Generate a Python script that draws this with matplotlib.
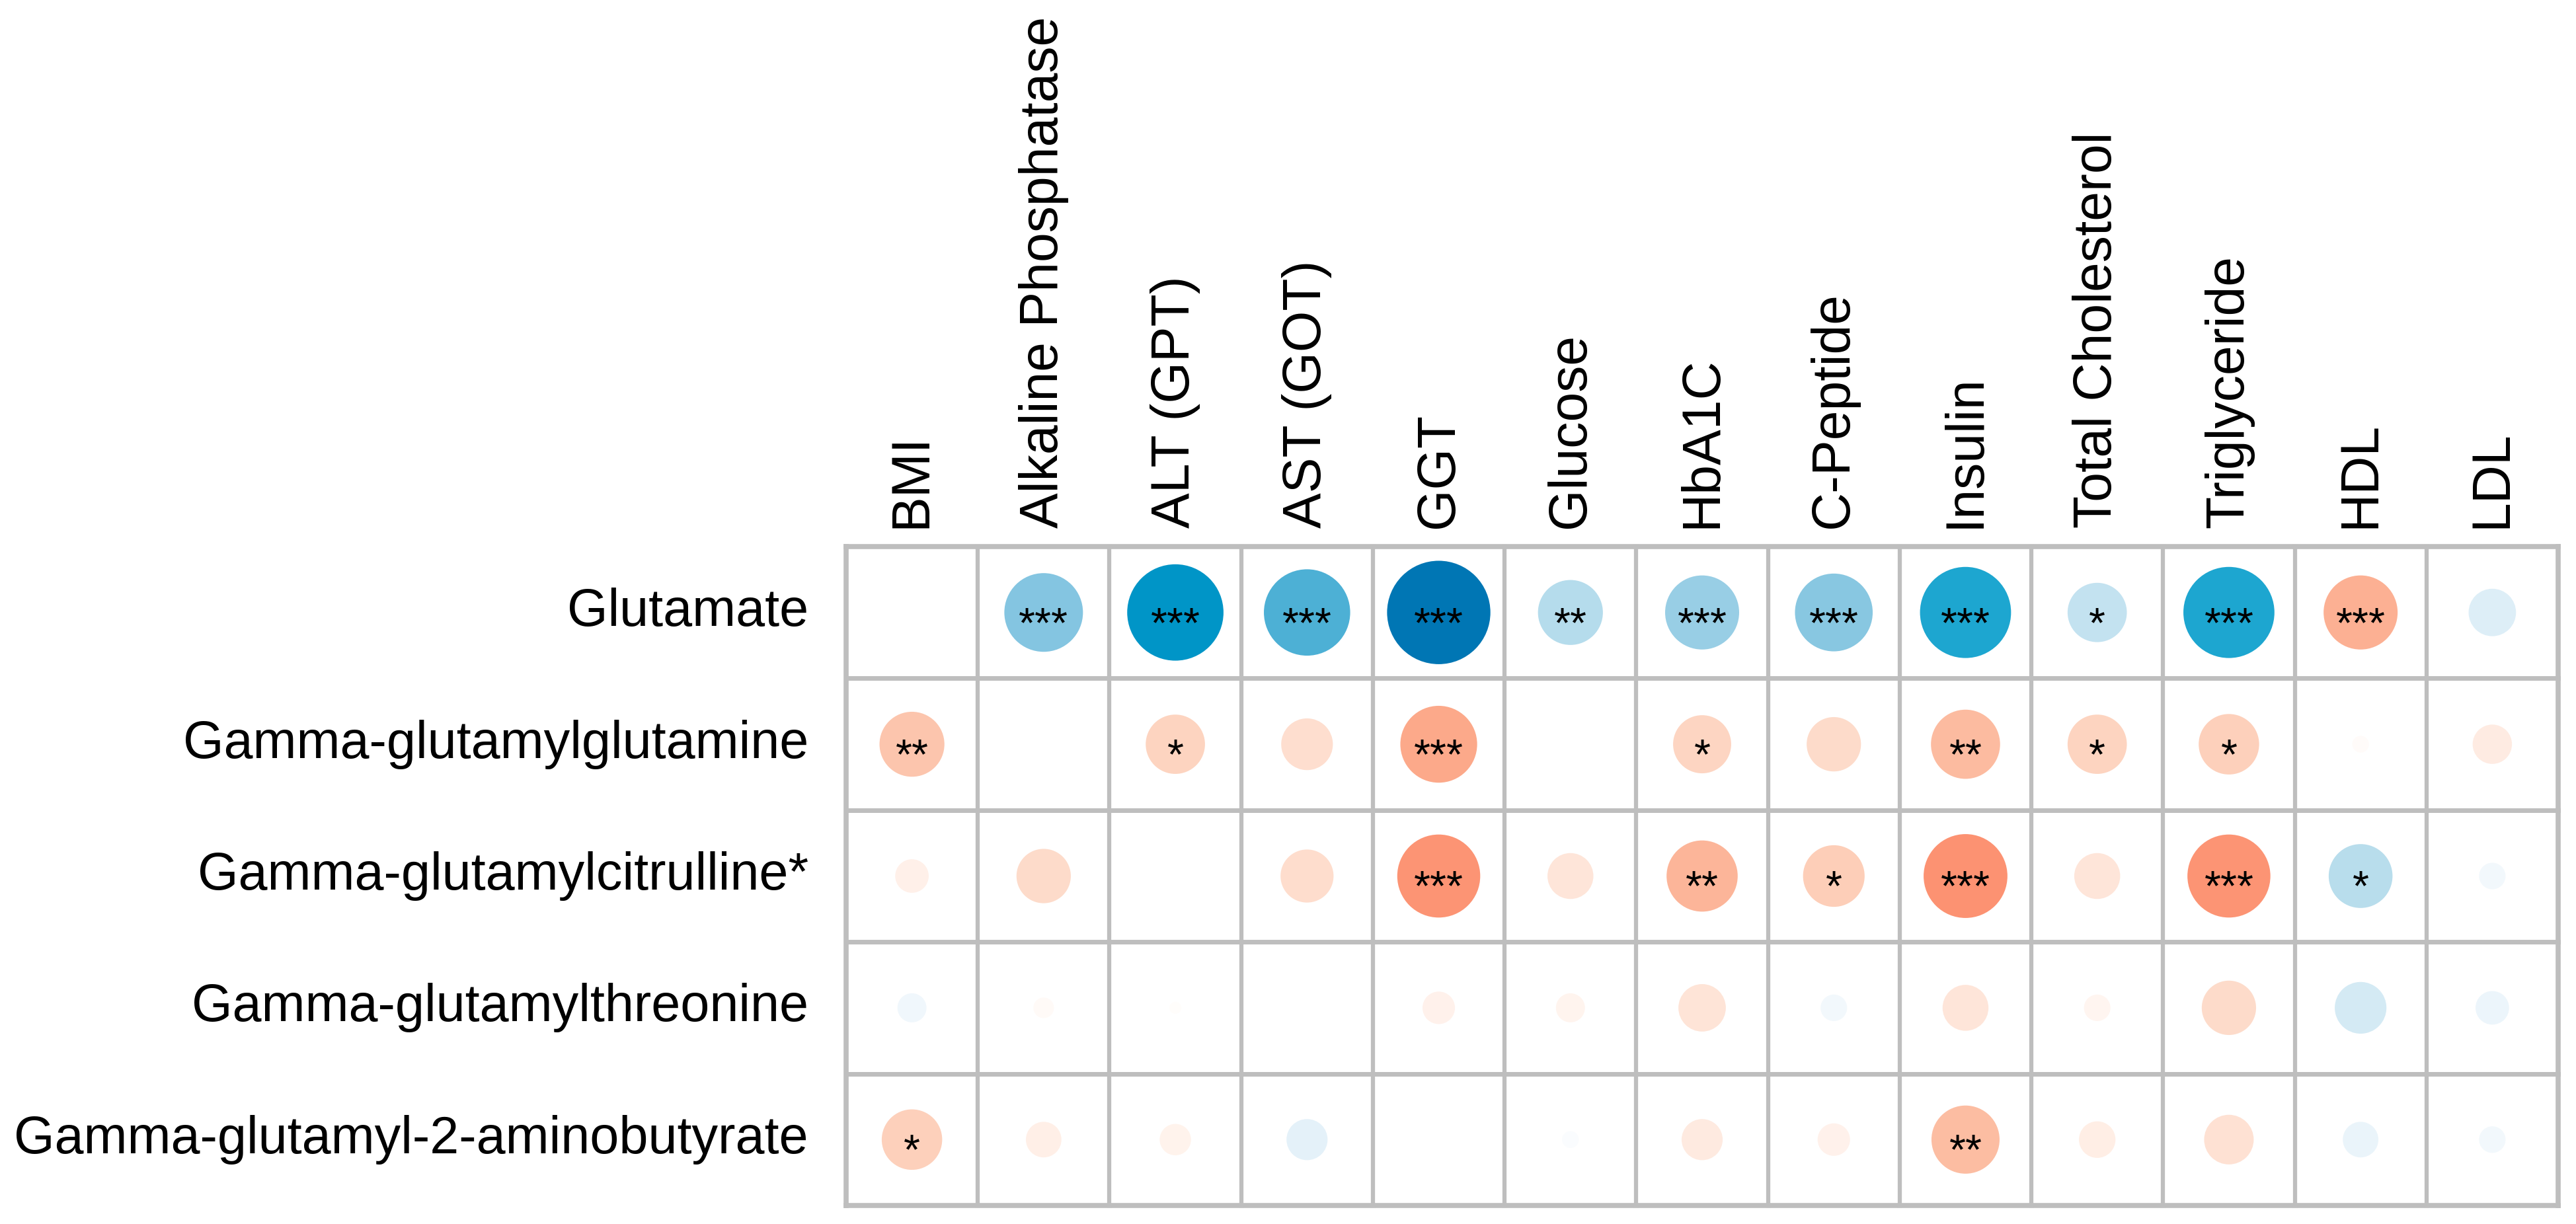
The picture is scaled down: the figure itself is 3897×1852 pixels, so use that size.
import numpy as np
import matplotlib
matplotlib.use("Agg")
import matplotlib.pyplot as plt
from matplotlib.colors import LinearSegmentedColormap
from matplotlib.patches import Circle

plt.rcParams['font.family'] = ["Liberation Sans", "DejaVu Sans"]

metabolites = ["Glutamate", "Gamma-glutamylglutamine", "Gamma-glutamylcitrulline*",
               "Gamma-glutamylthreonine", "Gamma-glutamyl-2-aminobutyrate"]
traits = ["BMI", "Alkaline Phosphatase", "ALT (GPT)", "AST (GOT)", "GGT", "Glucose",
          "HbA1C", "C-Peptide", "Insulin", "Total Cholesterol", "Triglyceride", "HDL", "LDL"]

# correlation estimates (blue = positive, red = negative), nan = not shown
glutamate  = [np.nan, 0.44, 0.66, 0.53, 0.76, 0.30, 0.39, 0.43, 0.59, 0.25, 0.59, -0.39, 0.16]
gg_gln     = [-0.30, np.nan, -0.25, -0.19, -0.42, np.nan, -0.24, -0.21, -0.34, -0.25, -0.26, -0.02, -0.11]
gg_cit     = [-0.08, -0.21, np.nan, -0.20, -0.49, -0.15, -0.36, -0.27, -0.50, -0.15, -0.49, 0.29, 0.05]
gg_thr     = [0.06, -0.03, -0.01, np.nan, -0.075, -0.06, -0.16, 0.05, -0.15, -0.05, -0.21, 0.19, 0.08]
gg_abu     = [-0.26, -0.09, -0.07, 0.12, np.nan, 0.02, -0.12, -0.075, -0.33, -0.095, -0.175, 0.09, 0.05]

stars_glutamate = ["", "***", "***", "***", "***", "**", "***", "***", "***", "*", "***", "***", ""]
stars_gg_gln    = ["**", "", "*", "", "***", "", "*", "", "**", "*", "*", "", ""]
stars_gg_cit    = ["", "", "", "", "***", "", "**", "*", "***", "", "***", "*", ""]
stars_gg_thr    = ["", "", "", "", "", "", "", "", "", "", "", "", ""]
stars_gg_abu    = ["*", "", "", "", "", "", "", "", "**", "", "", "", ""]

values = np.array([glutamate, gg_gln, gg_cit, gg_thr, gg_abu])
stars = [stars_glutamate, stars_gg_gln, stars_gg_cit, stars_gg_thr, stars_gg_abu]

nodes = [(-1.0, "#B2182B"), (-0.70, "#EF6548"), (-0.50, "#FC9171"), (-0.42, "#FCA98A"),
         (-0.34, "#FCBBA0"), (-0.25, "#FDD3BF"), (-0.15, "#FEE6DA"), (-0.05, "#FFF5F0"),
         (0.0, "#FFFFFF"), (0.05, "#F2F8FC"), (0.16, "#DDEEF7"), (0.30, "#B6DCEC"),
         (0.44, "#86C6E1"), (0.53, "#4DB0D5"), (0.59, "#1EA6D0"), (0.66, "#0096C7"),
         (0.76, "#0077B5"), (1.0, "#08457E")]
cmap = LinearSegmentedColormap.from_list("corr", [((v + 1) / 2, c) for v, c in nodes])

GRID = "#BEBEBE"
W, H, DPI = 3898, 1852, 100
fig = plt.figure(figsize=(W / DPI, H / DPI), dpi=DPI)
x0, x1, y0, y1 = 1280, 3870, 827, 1824
ax = fig.add_axes([x0 / W, 1 - y1 / H, (x1 - x0) / W, (y1 - y0) / H])
nr, nc = values.shape
ax.set_xlim(0, nc)
ax.set_ylim(nr, 0)
ax.set_axis_off()

star_fs = 46
cell_px = (x1 - x0) / nc
star_dy = 0.58 * star_fs * DPI / 72 / cell_px

for i in range(nr):
    for j in range(nc):
        v = values[i, j]
        if not np.isnan(v):
            r = 0.45 * np.sqrt(abs(v))
            ax.add_patch(Circle((j + 0.5, i + 0.5), r, facecolor=cmap((v + 1) / 2),
                                edgecolor="none", zorder=2))
        if stars[i][j]:
            ax.text(j + 0.5, i + 0.5 + star_dy, stars[i][j], ha="center", va="baseline",
                    fontsize=star_fs, color="black", zorder=3)

# grid
for k in range(nr + 1):
    lw = 5.5 if k in (0, nr) else 5
    ax.plot([0, nc], [k, k], color=GRID, lw=lw, solid_capstyle="projecting",
            clip_on=False, zorder=4)
for k in range(nc + 1):
    lw = 5.5 if k in (0, nc) else 4.5
    ax.plot([k, k], [0, nr], color=GRID, lw=lw, solid_capstyle="projecting",
            clip_on=False, zorder=4)

# labels
for i, name in enumerate(metabolites):
    ax.text(-57 / cell_px, i + 0.5, name, ha="right", va="center", fontsize=57)
for j, name in enumerate(traits):
    ax.text(j + 0.5, -28 / cell_px, name, ha="center", va="bottom", rotation=90,
            fontsize=58)

fig.savefig("out.png", dpi=DPI, facecolor="white")
